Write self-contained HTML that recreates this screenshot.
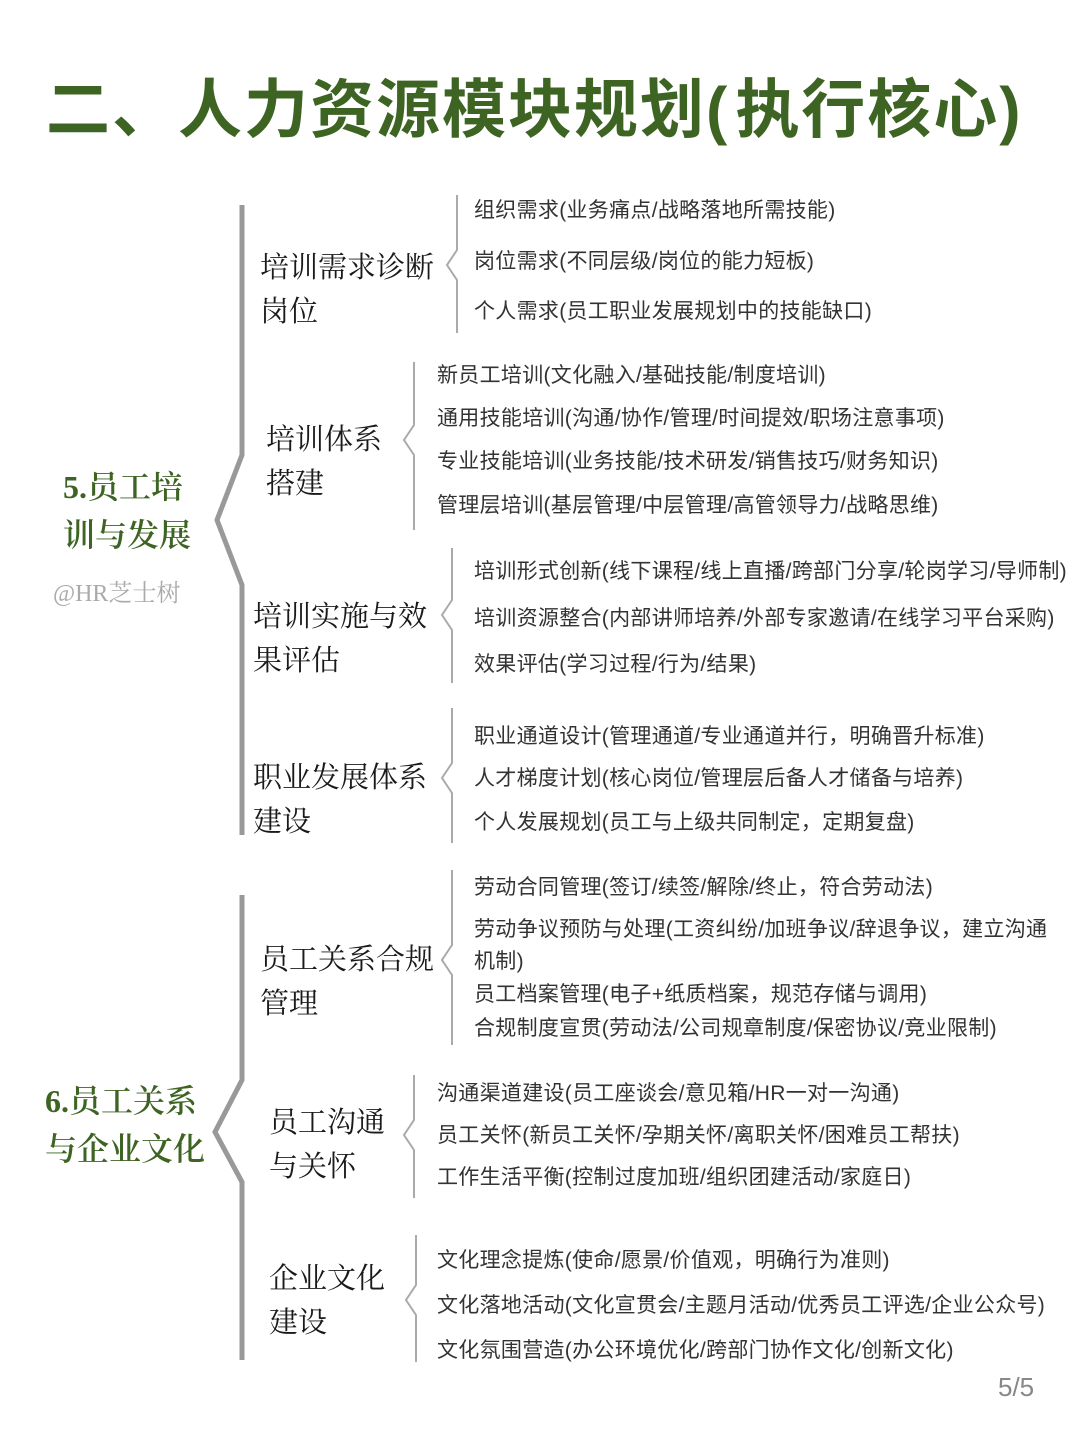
<!DOCTYPE html>
<html><head><meta charset="utf-8"><style>
body{margin:0;width:1080px;height:1440px;background:#fff;position:relative;overflow:hidden;font-family:"Liberation Sans","Noto Sans CJK SC",sans-serif}
.t{position:absolute;white-space:nowrap}
.i{font-size:21px;color:#333;line-height:24px;letter-spacing:0.3px}
.m{font-family:"Liberation Serif","Noto Serif CJK SC",serif;font-size:29px;color:#1a1a1a;line-height:44px}
.g{font-family:"Liberation Serif","Noto Serif CJK SC",serif;font-size:32px;color:#3d6422;line-height:48px;font-weight:600}
</style></head><body>
<div class="t" style="left:46px;top:70px;font-size:64px;font-weight:bold;color:#3d6422;line-height:80px;letter-spacing:2px">二、人力资源模块规划<span style="letter-spacing:8px">(</span>执行核心)</div>
<svg style="position:absolute;left:0;top:0" width="1080" height="1440">
<g fill="none" stroke="#999" stroke-width="5" stroke-linejoin="miter">
<polyline points="242,205 242,455 217,520 242,585 242,835"/>
<polyline points="242,895 242,1080 215,1132 242,1182 242,1360"/>
</g>
<g fill="none" stroke="#aaa" stroke-width="2">
<polyline points="457,195 457,250 447,265 457,280 457,333"/>
<polyline points="414,362 414,425 404,440 414,455 414,530"/>
<polyline points="452,548 452,600 442,615 452,630 452,683"/>
<polyline points="452,708 452,763 442,778 452,793 452,843"/>
<polyline points="452,870 452,945 442,960 452,975 452,1045"/>
<polyline points="414,1075 414,1120 404,1135 414,1150 414,1198"/>
<polyline points="416,1235 416,1285 406,1300 416,1315 416,1362"/>
</g>
</svg>
<div class="t g" style="left:63px;top:463px">5.员工培<br>训与发展</div>
<div class="t" style="left:53px;top:573px;font-size:24px;color:#aaa;font-family:'Liberation Serif','Noto Serif CJK SC',serif">@HR芝士树</div>
<div class="t g" style="left:45px;top:1077px">6.员工关系<br>与企业文化</div>
<div class="t m" style="left:260px;top:246px">培训需求诊断<br>岗位</div>
<div class="t m" style="left:266px;top:418px">培训体系<br>搭建</div>
<div class="t m" style="left:253px;top:595px">培训实施与效<br>果评估</div>
<div class="t m" style="left:253px;top:756px">职业发展体系<br>建设</div>
<div class="t m" style="left:260px;top:938px">员工关系合规<br>管理</div>
<div class="t m" style="left:269px;top:1101px">员工沟通<br>与关怀</div>
<div class="t m" style="left:269px;top:1257px">企业文化<br>建设</div>
<div class="t i" style="left:474px;top:199px">组织需求(业务痛点/战略落地所需技能)</div>
<div class="t i" style="left:474px;top:250px">岗位需求(不同层级/岗位的能力短板)</div>
<div class="t i" style="left:474px;top:300px">个人需求(员工职业发展规划中的技能缺口)</div>
<div class="t i" style="left:437px;top:364px">新员工培训(文化融入/基础技能/制度培训)</div>
<div class="t i" style="left:437px;top:407px">通用技能培训(沟通/协作/管理/时间提效/职场注意事项)</div>
<div class="t i" style="left:437px;top:450px">专业技能培训(业务技能/技术研发/销售技巧/财务知识)</div>
<div class="t i" style="left:437px;top:494px">管理层培训(基层管理/中层管理/高管领导力/战略思维)</div>
<div class="t i" style="left:474px;top:560px">培训形式创新(线下课程/线上直播/跨部门分享/轮岗学习/导师制)</div>
<div class="t i" style="left:474px;top:607px">培训资源整合(内部讲师培养/外部专家邀请/在线学习平台采购)</div>
<div class="t i" style="left:474px;top:653px">效果评估(学习过程/行为/结果)</div>
<div class="t i" style="left:474px;top:725px">职业通道设计(管理通道/专业通道并行，明确晋升标准)</div>
<div class="t i" style="left:474px;top:767px">人才梯度计划(核心岗位/管理层后备人才储备与培养)</div>
<div class="t i" style="left:474px;top:811px">个人发展规划(员工与上级共同制定，定期复盘)</div>
<div class="t i" style="left:474px;top:876px">劳动合同管理(签订/续签/解除/终止，符合劳动法)</div>
<div class="t i" style="left:474px;top:918px">劳动争议预防与处理(工资纠纷/加班争议/辞退争议，建立沟通</div>
<div class="t i" style="left:474px;top:950px">机制)</div>
<div class="t i" style="left:474px;top:983px">员工档案管理(电子+纸质档案，规范存储与调用)</div>
<div class="t i" style="left:474px;top:1017px">合规制度宣贯(劳动法/公司规章制度/保密协议/竞业限制)</div>
<div class="t i" style="left:437px;top:1082px">沟通渠道建设(员工座谈会/意见箱/HR一对一沟通)</div>
<div class="t i" style="left:437px;top:1124px">员工关怀(新员工关怀/孕期关怀/离职关怀/困难员工帮扶)</div>
<div class="t i" style="left:437px;top:1166px">工作生活平衡(控制过度加班/组织团建活动/家庭日)</div>
<div class="t i" style="left:437px;top:1249px">文化理念提炼(使命/愿景/价值观，明确行为准则)</div>
<div class="t i" style="left:437px;top:1294px">文化落地活动(文化宣贯会/主题月活动/优秀员工评选/企业公众号)</div>
<div class="t i" style="left:437px;top:1339px">文化氛围营造(办公环境优化/跨部门协作文化/创新文化)</div>
<div class="t" style="left:998px;top:1372px;font-size:26px;color:#888">5/5</div>
</body></html>
